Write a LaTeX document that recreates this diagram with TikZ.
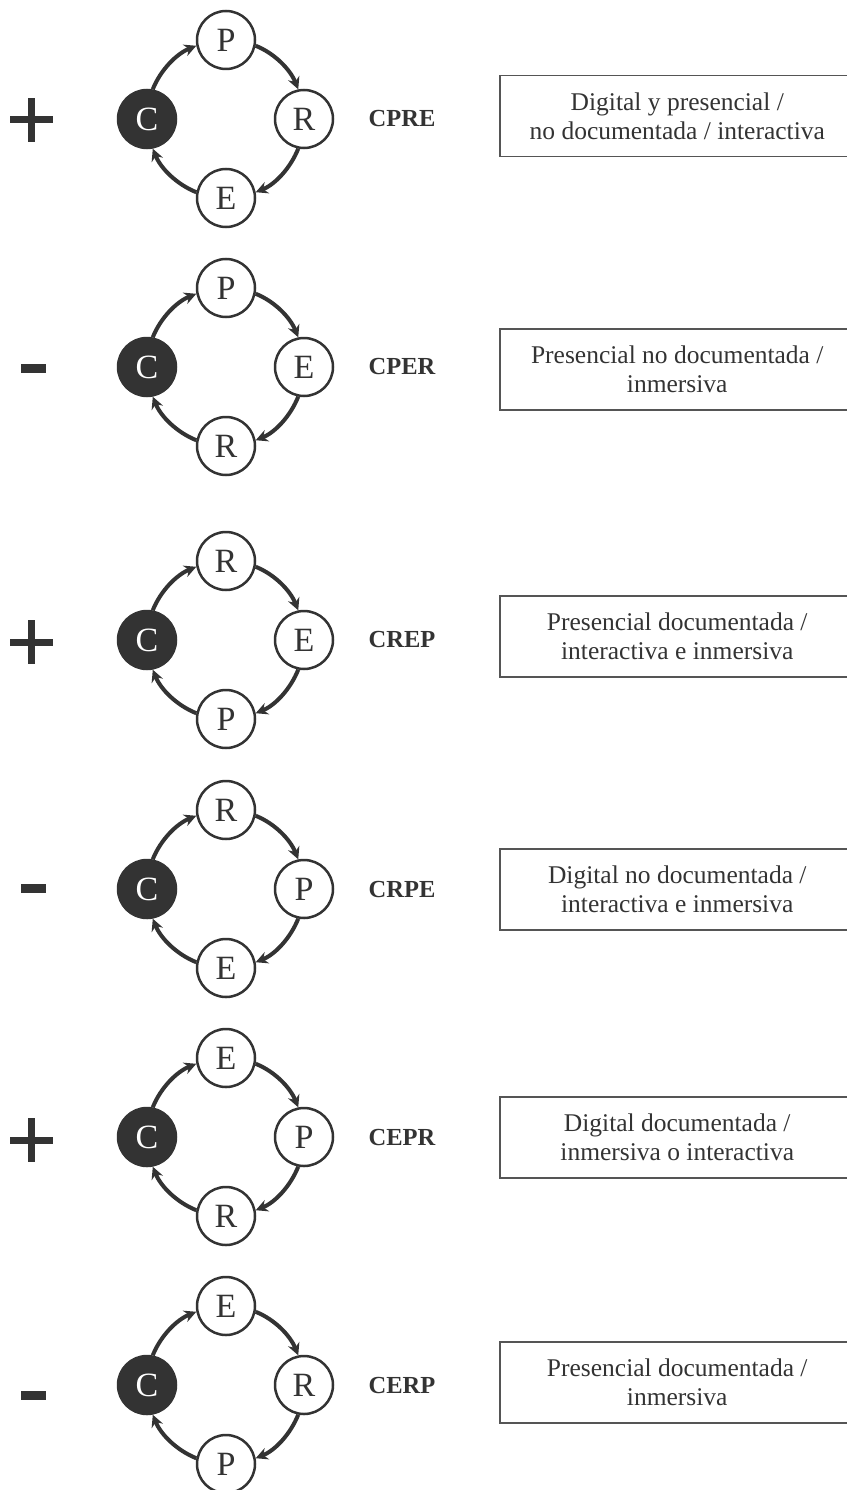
\documentclass[tikz,border=0pt]{standalone}
\usepackage{fontspec}
\setmainfont{Liberation Serif}
\usetikzlibrary{arrows.meta}
\definecolor{ink}{HTML}{333333}
\definecolor{frame}{HTML}{555555}

% One cycle: #1 id, #2 centre y, #3 top, #4 right, #5 bottom, #6 code, #7 box top, #8 description
% The four connectors follow the circle through the four stage centres.
\newcommand\stagecycle[8]{%
  \node[core]  (#1c) at (147,#2) {C};
  \node[stage] (#1t) at (226,#2-79) {#3};
  \node[stage] (#1r) at (304,#2) {#4};
  \node[stage] (#1b) at (226,#2+79) {#5};
  \draw[flow] (#1c.79)  to[out=68,in=202]   (#1t.191);
  \draw[flow] (#1t.-11) to[out=-22,in=112]  (#1r.101);
  \draw[flow] (#1r.259) to[out=-112,in=22]  (#1b.11);
  \draw[flow] (#1b.169) to[out=158,in=292]  (#1c.281);
  \node[code] (#1k) at (402,#2) {#6};
  \node[desc] (#1d) at (499,#7) {#8};
}
\newcommand\plussign[1]{%
  \fill[sign] (10,#1-3.5) rectangle (53,#1+3.5);
  \fill[sign] (27.5,#1-22) rectangle (34.5,#1+22);
}
\newcommand\minussign[1]{%
  \fill[sign] (20.5,#1-4.5) rectangle (45.5,#1+4.5);
}

\begin{document}
\begin{tikzpicture}[x=1pt,y=-1pt,
  stage/.style={circle,draw=ink,line width=2.5pt,fill=white,minimum size=58pt,
    inner sep=0pt,text=ink,font=\fontsize{34}{34}\selectfont},
  core/.style={stage,fill=ink,text=white},
  flow/.style={draw=ink,line width=4pt,looseness=0.88,
    -{Stealth[length=12pt,width=12pt]}},
  code/.style={text=ink,font=\bfseries\fontsize{24.5}{24.5}\selectfont},
  desc/.style={draw=frame,line width=1.5pt,anchor=north west,
    minimum width=355pt,minimum height=81pt,align=center,text=ink,
    font=\fontsize{25.5}{29}\selectfont},
  sign/.style={fill=ink},
]
\useasboundingbox (0,0) rectangle (846,1490);

\plussign{120}
\stagecycle{a}{119}{P}{R}{E}{CPRE}{75}{Digital y presencial /\\no documentada / interactiva}
\minussign{368}
\stagecycle{b}{367}{P}{E}{R}{CPER}{328}{Presencial no documentada /\\inmersiva}
\plussign{642}
\stagecycle{c}{640}{R}{E}{P}{CREP}{595}{Presencial documentada /\\interactiva e inmersiva}
\minussign{888.5}
\stagecycle{d}{889}{R}{P}{E}{CRPE}{848}{Digital no documentada /\\interactiva e inmersiva}
\plussign{1140}
\stagecycle{e}{1137}{E}{P}{R}{CEPR}{1096}{Digital documentada /\\inmersiva o interactiva}
\minussign{1395.5}
\stagecycle{f}{1385}{E}{R}{P}{CERP}{1341}{Presencial documentada /\\inmersiva}
\end{tikzpicture}
\end{document}
